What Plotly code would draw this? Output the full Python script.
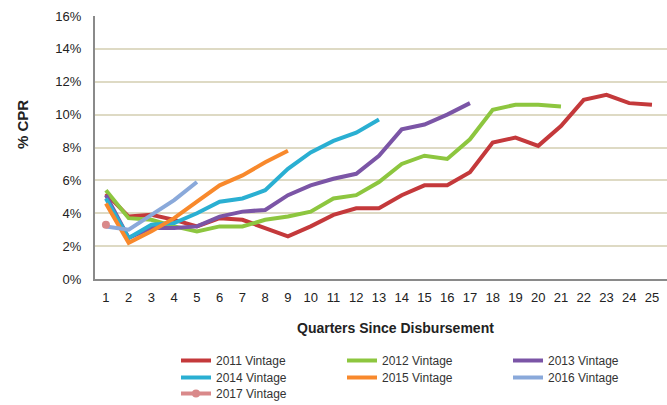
import plotly.graph_objects as go

quarters = list(range(1, 26))
v2011 = [5.2, 3.8, 3.9, 3.6, 3.2, 3.7, 3.6, 3.1, 2.6, 3.2, 3.9, 4.3, 4.3, 5.1, 5.7, 5.7, 6.5, 8.3, 8.6, 8.1, 9.3, 10.9, 11.2, 10.7, 10.6]
v2012 = [5.4, 3.7, 3.6, 3.2, 2.9, 3.2, 3.2, 3.6, 3.8, 4.1, 4.9, 5.1, 5.9, 7.0, 7.5, 7.3, 8.5, 10.3, 10.6, 10.6, 10.5]
v2013 = [5.1, 2.5, 3.1, 3.1, 3.2, 3.8, 4.1, 4.2, 5.1, 5.7, 6.1, 6.4, 7.5, 9.1, 9.4, 10.0, 10.7]
v2014 = [4.9, 2.5, 3.3, 3.4, 4.0, 4.7, 4.9, 5.4, 6.7, 7.7, 8.4, 8.9, 9.7]
v2015 = [4.6, 2.2, 2.9, 3.7, 4.7, 5.7, 6.3, 7.1, 7.8]
v2016 = [3.2, 3.0, 3.9, 4.8, 5.9]
v2017 = [3.3]

names = ["2011 Vintage", "2012 Vintage", "2013 Vintage", "2014 Vintage",
         "2015 Vintage", "2016 Vintage", "2017 Vintage"]
values = [v2011, v2012, v2013, v2014, v2015, v2016, v2017]
colors = ["#C4393B", "#8DC63F", "#7B55A6", "#2AAFD2", "#F8892C", "#8AA9DA", "#D9898A"]

# plot area in pixels
L, R, T, B = 95, 0, 16, 126
W, H = 667, 405
PW, PH = W - L - R, H - T - B

fig = go.Figure()
legends = {}
font = "Liberation Sans, Arial, sans-serif"
col_x = [176, 342, 508]
row_center = [360, 377, 393]
for i, (name, vals, color) in enumerate(zip(names, values, colors)):
    key = "legend" if i == 0 else f"legend{i + 1}"
    fig.add_trace(go.Scatter(
        x=quarters[:len(vals)], y=vals, name=name,
        mode="lines+markers" if len(vals) == 1 else "lines",
        line=dict(color=color, width=4),
        marker=dict(color=color, size=8),
        legend=key,
    ))
    cx = col_x[i % 3]
    cy = row_center[i // 3]
    legends[key] = dict(
        orientation="v", font=dict(family=font, size=12, color="#333"),
        bgcolor="rgba(0,0,0,0)", xanchor="left", yanchor="top",
        itemwidth=30,
        x=(cx - L) / PW, y=-((cy - 14) - (T + PH)) / PH,
    )

fig.update_layout(
    width=W, height=H,
    margin=dict(l=L, r=R, t=T, b=B, autoexpand=False),
    paper_bgcolor="white", plot_bgcolor="white",
    font=dict(family=font, color="#333"),
    xaxis=dict(range=[0.52, 25.66], tickmode="array", tickvals=quarters,
               showgrid=False, zeroline=False, showline=True, linecolor="#8a8a8a",
               linewidth=2, tickfont=dict(size=13, color="#222"), ticklabelstandoff=5),
    yaxis=dict(range=[0, 16], tickvals=list(range(0, 17, 2)),
               ticktext=[f"{v}%" for v in range(0, 17, 2)],
               showgrid=True, gridcolor="#DEDAC4", gridwidth=2, zeroline=False,
               showline=True, linecolor="#8a8a8a", linewidth=2,
               tickfont=dict(size=13, color="#222"), ticklabelstandoff=9),
    annotations=[
        dict(text="<b>Quarters Since Disbursement</b>", xref="paper", yref="paper",
             x=(395 - L) / PW, y=-(328 - (T + PH)) / PH, showarrow=False,
             font=dict(size=14, color="#222"), xanchor="center", yanchor="middle"),
        dict(text="<b>% CPR</b>", xref="paper", yref="paper", textangle=-90,
             x=-(L - 22) / PW, y=((T + PH) - 125) / PH, showarrow=False,
             font=dict(size=15, color="#222"), xanchor="center", yanchor="middle"),
    ],
    showlegend=True,
    **legends,
)

fig.write_html("out.html", config={"displayModeBar": False},
               post_script="document.body.style.margin='0';")
